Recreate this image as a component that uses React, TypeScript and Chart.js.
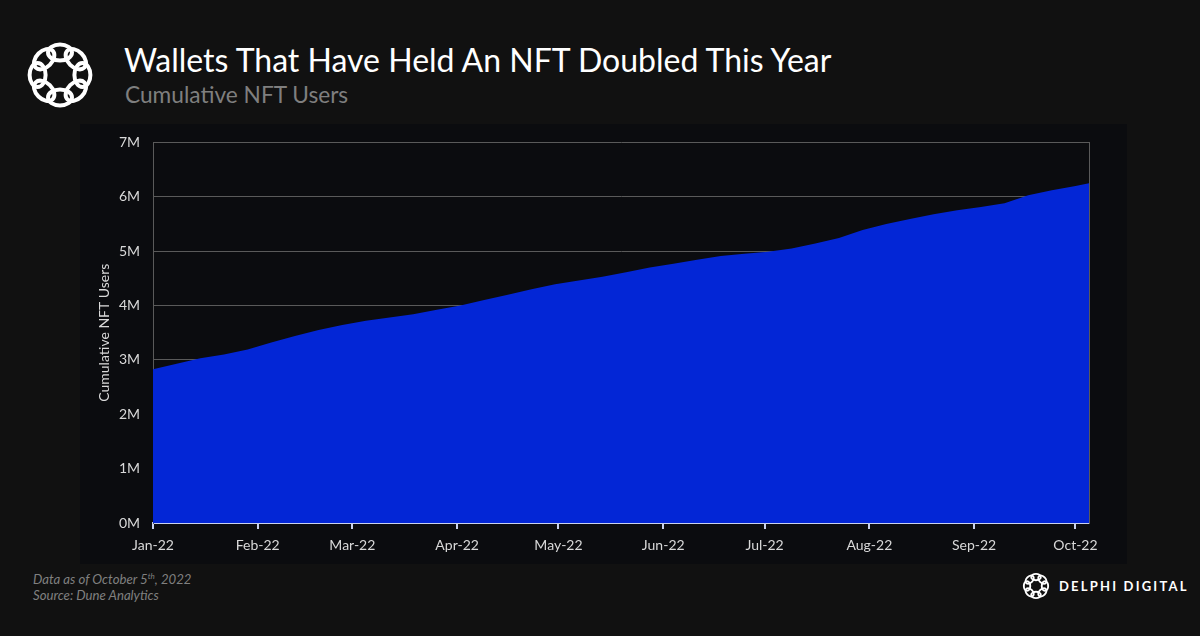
import React, { useEffect, useRef } from "react";
import { Chart, registerables } from "chart.js";

Chart.register(...registerables);

// Days since Jan 1 2022 at which values were read
const dayOffsets = [
  0, 7, 14, 21, 28, 35, 42, 49, 56, 63, 70, 77, 84, 91, 98, 105, 112, 119, 126, 133,
  140, 147, 154, 161, 168, 175, 182, 189, 196, 203, 210, 217, 224, 231, 238, 245,
  252, 259, 266, 273, 277,
];
// Cumulative NFT users (millions)
const usersMillions = [
  2.83, 2.93, 3.03, 3.1, 3.19, 3.32, 3.44, 3.55, 3.64, 3.72, 3.78, 3.84, 3.92, 4.0,
  4.1, 4.2, 4.3, 4.39, 4.46, 4.53, 4.61, 4.7, 4.77, 4.84, 4.91, 4.95, 4.99, 5.05,
  5.14, 5.24, 5.39, 5.5, 5.59, 5.68, 5.75, 5.81, 5.88, 6.03, 6.12, 6.2, 6.25,
];
// Month tick positions (day offsets) and labels
const monthTickDays = [0, 31, 59, 90, 120, 151, 181, 212, 243, 273];
const monthTickLabels = [
  "Jan-22", "Feb-22", "Mar-22", "Apr-22", "May-22", "Jun-22", "Jul-22", "Aug-22", "Sep-22", "Oct-22",
];
const yTickValues = [0, 1, 2, 3, 4, 5, 6, 7];

const FONT = "Lato, 'Open Sans', sans-serif";

function Logo({ size, stroke }: { size: number; stroke: number }) {
  const n = 8;
  const circles = [];
  for (let i = 0; i < n; i++) {
    const a = (i / n) * Math.PI * 2;
    const cx = 50 + Math.cos(a) * 28;
    const cy = 50 + Math.sin(a) * 28;
    circles.push(
      <ellipse
        key={i}
        cx={cx}
        cy={cy}
        rx={15}
        ry={10}
        transform={`rotate(${(a * 180) / Math.PI + 90} ${cx} ${cy})`}
        fill="none"
        stroke="#ffffff"
        strokeWidth={stroke}
      />
    );
  }
  return (
    <svg width={size} height={size} viewBox="0 0 100 100">
      {circles}
    </svg>
  );
}

export default function App() {
  const canvasRef = useRef<HTMLCanvasElement | null>(null);

  useEffect(() => {
    document.body.style.margin = "0";
    const canvas = canvasRef.current;
    if (!canvas) return;
    const points = dayOffsets.map((d, i) => ({ x: d, y: usersMillions[i] }));
    const chart = new Chart(canvas, {
      type: "line",
      data: {
        datasets: [
          {
            label: "Cumulative NFT Users",
            data: points,
            fill: "origin",
            backgroundColor: "#0326d6",
            borderColor: "#0326d6",
            borderWidth: 0,
            pointRadius: 0,
            tension: 0,
          },
        ],
      },
      options: {
        animation: false,
        responsive: false,
        maintainAspectRatio: false,
        layout: { padding: { left: 0, right: 38, top: 15, bottom: 0 } },
        plugins: { legend: { display: false }, tooltip: { enabled: false }, title: { display: false } },
        scales: {
          x: {
            type: "linear",
            min: 0,
            max: 277,
            afterBuildTicks: (scale: any) => {
              scale.ticks = monthTickDays.map((v) => ({ value: v }));
            },
            afterFit: (scale: any) => {
              scale.height = 41;
            },
            ticks: {
              autoSkip: false,
              maxRotation: 0,
              color: "#d9d9d9",
              padding: 8,
              font: { family: FONT, size: 14 },
              callback: (v: any) => {
                const idx = monthTickDays.indexOf(Number(v));
                return idx >= 0 ? monthTickLabels[idx] : "";
              },
            },
            grid: {
              drawOnChartArea: false,
              drawTicks: true,
              tickLength: 6,
              color: "#c9d2ee",
              lineWidth: 2,
            },
            border: { color: "#c9d2ee", width: 2 },
          },
          y: {
            min: 0,
            max: 7,
            afterBuildTicks: (scale: any) => {
              scale.ticks = yTickValues.map((v) => ({ value: v }));
            },
            afterFit: (scale: any) => {
              scale.width = 73;
            },
            ticks: {
              color: "#d9d9d9",
              padding: 13,
              font: { family: FONT, size: 14 },
              callback: (v: any) => `${v}M`,
            },
            grid: { color: "#5a5a5a", lineWidth: 1, drawTicks: false },
            border: { color: "#5a5a5a", width: 1 },
            title: {
              display: true,
              text: "Cumulative NFT Users",
              color: "#d9d9d9",
              font: { family: FONT, size: 14 },
              padding: { top: 16, bottom: 0 },
            },
          },
          y2: {
            position: "right",
            min: 0,
            max: 7,
            ticks: { display: false },
            grid: { drawOnChartArea: false, drawTicks: false },
            border: { color: "#5a5a5a", width: 1 },
            afterFit: (scale: any) => {
              scale.width = 0;
            },
          },
        },
      },
    });
    return () => chart.destroy();
  }, []);

  return (
    <div
      style={{
        position: "fixed",
        left: 0,
        top: 0,
        width: 1200,
        height: 636,
        background: "#111111",
        fontFamily: FONT,
        overflow: "hidden",
      }}
    >
      <div style={{ position: "absolute", left: 20, top: 35 }}>
        <Logo size={80} stroke={5} />
      </div>
      <div
        style={{
          position: "absolute",
          left: 124,
          top: 40,
          color: "#ffffff",
          fontSize: 32,
          whiteSpace: "nowrap",
          lineHeight: "40px",
        }}
      >
        Wallets That Have Held An NFT Doubled This Year
      </div>
      <div
        style={{
          position: "absolute",
          left: 125,
          top: 80,
          color: "#7f7f7f",
          fontSize: 22.7,
          whiteSpace: "nowrap",
          lineHeight: "30px",
        }}
      >
        Cumulative NFT Users
      </div>
      <div
        style={{
          position: "absolute",
          left: 80,
          top: 124,
          width: 1047,
          height: 440,
          background: "#0b0c0f",
        }}
      />
      <canvas
        ref={canvasRef}
        width={1047}
        height={443}
        style={{ position: "absolute", left: 80, top: 121, width: 1047, height: 443, display: "block" }}
      />
      <div
        style={{
          position: "absolute",
          left: 33,
          top: 571,
          color: "#808080",
          fontSize: 13.2,
          fontStyle: "italic",
          lineHeight: "16px",
          whiteSpace: "nowrap",
        }}
      >
        <div>
          Data as of October 5<sup style={{ fontSize: 8, verticalAlign: "top", lineHeight: "10px" }}>th</sup>, 2022
        </div>
        <div>Source: Dune Analytics</div>
      </div>
      <div style={{ position: "absolute", left: 1020, top: 570 }}>
        <Logo size={32} stroke={6} />
      </div>
      <div
        style={{
          position: "absolute",
          left: 1059,
          top: 577,
          color: "#ffffff",
          fontSize: 13,
          fontWeight: 700,
          letterSpacing: 2.2,
          lineHeight: "18px",
          whiteSpace: "nowrap",
        }}
      >
        DELPHI DIGITAL
      </div>
    </div>
  );
}
